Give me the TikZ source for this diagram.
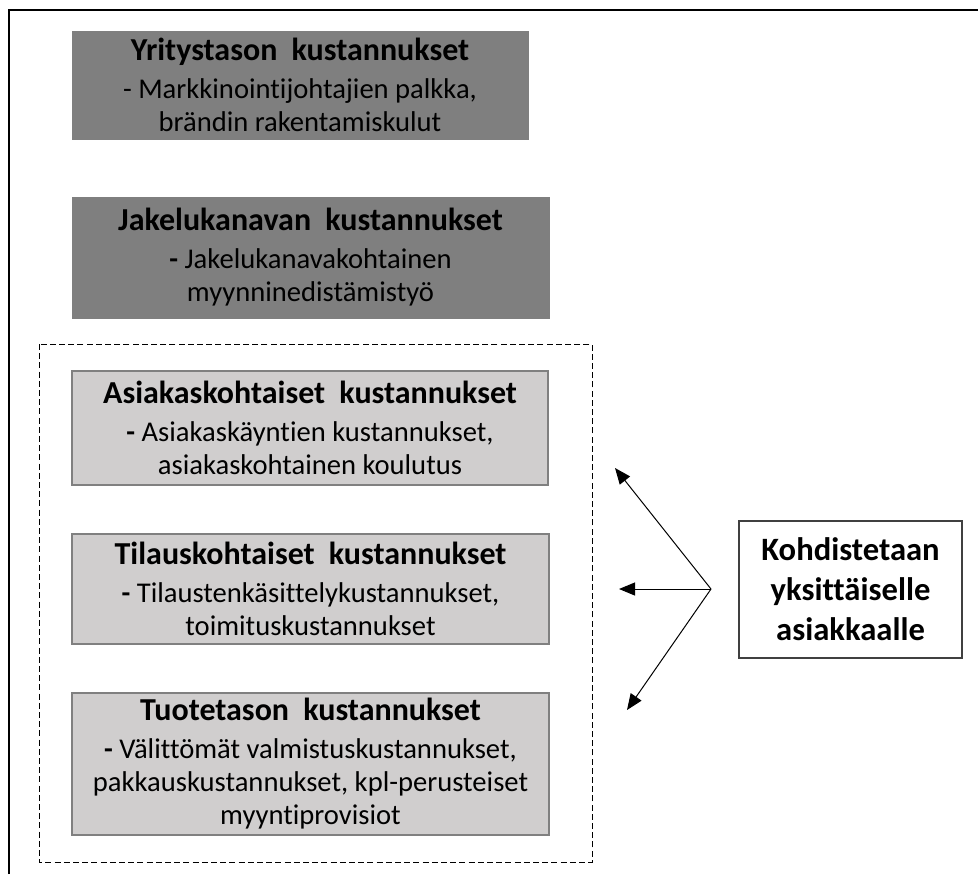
\documentclass[tikz,border=0pt]{standalone}
\usepackage{fontspec}
\setmainfont{Carlito}[Ligatures=NoCommon]
\usetikzlibrary{arrows.meta}

\definecolor{darkbox}{HTML}{7F7F7F}
\definecolor{lightbox}{HTML}{D0CECE}
\definecolor{boxline}{HTML}{808080}

\newcommand{\costhead}[2]{{\bfseries\fontsize{16}{16.5}\selectfont #1\hspace{3.5pt} #2}}

\begin{document}
\begin{tikzpicture}[x=0.5pt, y=-0.5pt,
    every node/.style={font=\fontsize{14.3}{16.5}\selectfont, align=center, inner sep=0pt},
    levelbox/.style={fill=darkbox, draw=darkbox, line width=0.5pt},
    costbox/.style={fill=lightbox, draw=boxline, line width=1pt},
    targetbox/.style={draw=black!75, line width=0.6pt, fill=white, font=\bfseries\fontsize{16.3}{20}\selectfont},
    fan/.style={-{Triangle[length=8pt, width=6.5pt]}, line width=0.5pt}]

\useasboundingbox (0,0) rectangle (978,874);

% open frame (only top and left edge visible)
\draw[line width=1pt] (9,874) -- (9,10) -- (978,10);

% customer-level group
\draw[dashed, dash pattern=on 3pt off 1.6pt, line width=0.5pt] (39,344) rectangle (592,862);


\node[levelbox, minimum width=228pt, minimum height=54pt] (firm) at (300,85)
    {\costhead{Yritystason}{kustannukset}\\[2.5pt] - Markkinointijohtajien palkka,\\ brändin rakentamiskulut};

\node[levelbox, minimum width=238.5pt, minimum height=60.5pt] (channel) at (310.5,257.5)
    {\costhead{Jakelukanavan}{kustannukset}\\[2.5pt] \textbf{-} Jakelukanavakohtainen\\ myynninedistämistyö};


\node[costbox, minimum width=238pt, minimum height=57pt] (customer) at (310,428)
    {\costhead{Asiakaskohtaiset}{kustannukset}\\[2.5pt] \textbf{-} Asiakaskäyntien kustannukset,\\ asiakaskohtainen koulutus};

\node[costbox, minimum width=238.5pt, minimum height=55pt] (order) at (310.5,589)
    {\costhead{Tilauskohtaiset}{kustannukset}\\[2.5pt] \textbf{-} Tilaustenkäsittelykustannukset,\\ toimituskustannukset};

\node[costbox, minimum width=238.5pt, minimum height=71pt] (product) at (310.5,764)
    {\costhead{Tuotetason}{kustannukset}\\[2.5pt] \textbf{-} Välittömät valmistuskustannukset,\\ pakkauskustannukset, kpl-perusteiset\\ myyntiprovisiot};


\node[targetbox, minimum width=111.5pt, minimum height=68.5pt] (target) at (850.5,589.5)
    {Kohdistetaan\\ yksittäiselle\\ asiakkaalle};

\coordinate (fanroot) at (711,589);
\coordinate (tipcustomer) at (615,468);
\coordinate (tiporder) at (619,589);
\coordinate (tipproduct) at (627,710);

\foreach \t in {tipcustomer, tiporder, tipproduct}
    \draw[fan] (fanroot) -- (\t);

\end{tikzpicture}
\end{document}
